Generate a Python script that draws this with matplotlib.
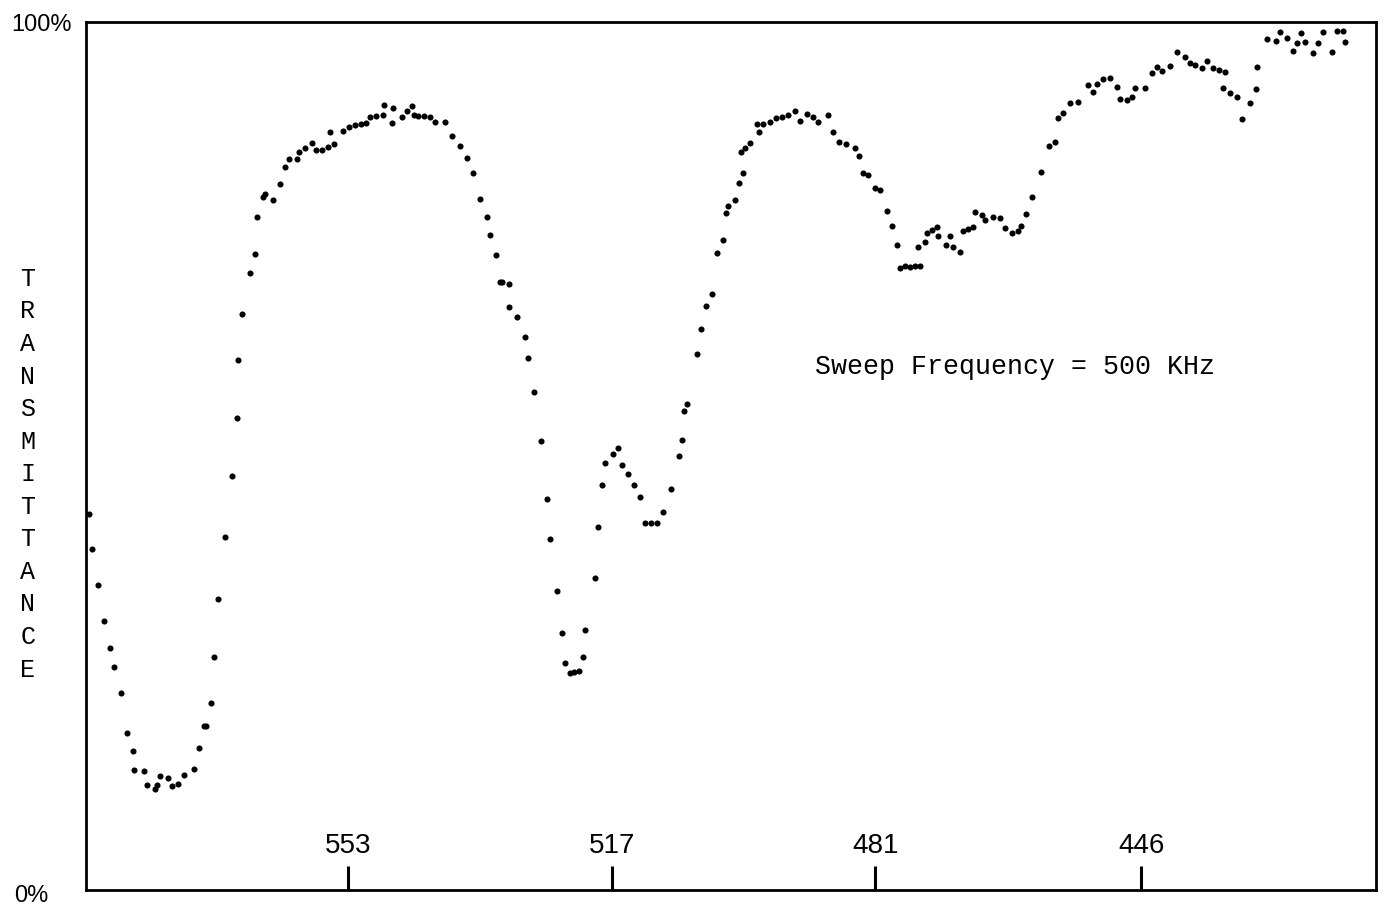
import matplotlib
matplotlib.use('Agg')
import matplotlib.pyplot as plt
import numpy as np

# sweep position (% of chart width) and transmittance (%)
sweep = [0.23, 0.47, 0.93, 1.40, 1.86, 2.17, 2.71, 3.18, 3.64, 3.72, 4.50, 4.73, 5.35, 5.50,
         5.74, 6.36, 6.67, 7.13, 7.60, 8.37, 8.76, 9.15, 9.30, 9.69, 9.92, 10.23, 10.78, 11.32,
         11.71, 11.78, 12.09, 12.71, 13.10, 13.26, 13.72, 13.88, 14.50, 15.04, 15.43, 15.74,
         16.36, 16.51, 16.98, 17.52, 17.83, 18.29, 18.76, 18.91, 19.22, 19.92, 20.39, 20.85,
         21.32, 21.71, 22.02, 22.48, 23.02, 23.10, 23.80, 23.72, 24.50, 24.88, 25.27, 25.43,
         25.74, 26.20, 26.67, 27.05, 27.83, 28.37, 28.99, 29.53, 30.00, 30.54, 31.09, 31.32,
         31.78, 32.09, 32.25, 32.79, 32.79, 33.41, 34.03, 34.26, 34.73, 35.27, 35.74, 35.97,
         36.51, 36.90, 37.13, 37.52, 37.83, 38.22, 38.53, 38.68, 39.46, 39.69, 40.00, 40.23,
         40.85, 41.24, 41.55, 42.02, 42.48, 42.95, 43.33, 43.80, 44.26, 44.73, 45.35, 45.97,
         46.20, 46.36, 46.59, 47.36, 47.67, 48.06, 48.53, 48.91, 49.38, 49.61, 49.77, 50.31,
         50.62, 50.93, 50.78, 51.09, 51.47, 52.17, 52.02, 52.48, 53.02, 53.49, 53.95, 54.42,
         54.96, 55.35, 55.89, 56.36, 56.74, 57.52, 57.91, 58.37, 58.91, 59.61, 59.92, 60.23,
         60.62, 61.16, 61.55, 62.09, 62.48, 62.87, 63.10, 63.49, 63.88, 64.26, 64.65, 64.50,
         65.04, 65.19, 65.58, 65.97, 66.05, 66.67, 66.98, 67.21, 67.75, 67.98, 68.37, 68.76,
         68.91, 69.46, 69.69, 70.31, 70.85, 71.24, 71.78, 72.25, 72.48, 72.87, 73.33, 74.03,
         74.65, 75.12, 75.35, 75.74, 76.28, 76.90, 77.67, 78.06, 78.37, 78.84, 79.38, 79.92,
         80.16, 80.70, 81.09, 81.32, 82.09, 82.64, 83.02, 83.41, 84.03, 84.57, 85.19, 85.58,
         85.97, 86.51, 86.90, 87.36, 87.83, 88.29, 88.14, 88.68, 89.22, 89.61, 90.23, 90.70,
         90.78, 91.55, 92.25, 92.56, 93.10, 93.57, 93.88, 94.19, 94.50, 95.12, 95.50, 95.89,
         96.59, 96.98, 97.44, 97.60]
trans = [43.3, 39.3, 35.1, 31.0, 27.9, 25.7, 22.7, 18.1, 16.0, 13.8, 13.7, 12.1, 11.6, 12.1,
         13.1, 12.9, 12.0, 12.2, 13.2, 13.9, 16.4, 18.9, 18.9, 21.5, 26.8, 33.5, 40.7, 47.7,
         54.4, 61.1, 66.4, 71.1, 73.3, 77.5, 79.8, 80.2, 79.5, 81.3, 83.3, 84.2,
         84.2, 85.0, 85.5, 86.1, 85.3, 85.3, 85.6, 87.3, 85.9, 87.4, 87.9, 88.1,
         88.2, 88.4, 89.1, 89.2, 89.3, 90.4, 90.1, 88.4, 89.1, 89.7, 90.3, 89.3,
         89.2, 89.2, 89.1, 88.5, 88.5, 86.9, 85.7, 84.3, 82.6, 79.6, 77.5, 75.5,
         73.2, 70.0, 70.0, 69.8, 67.2, 66.0, 63.7, 61.3, 57.4, 51.7, 45.0, 40.4,
         34.4, 29.6, 26.2, 25.0, 25.1, 25.2, 26.8, 30.0, 35.9, 41.8, 46.7, 49.2,
         50.2, 50.9, 49.0, 47.9, 46.7, 45.3, 42.3, 42.3, 42.3, 43.5, 46.2, 50.0,
         51.8, 55.2, 56.0, 61.8, 64.6, 67.3, 68.7, 73.4, 74.9, 78.0, 78.8, 79.5,
         81.5, 82.6, 85.0, 85.5, 86.1, 87.3, 88.2, 88.2, 88.5, 88.9, 89.1, 89.3,
         89.7, 88.6, 89.4, 89.1, 88.5, 89.3, 87.3, 86.2, 85.9, 85.5, 84.6, 82.6,
         82.4, 80.9, 80.6, 78.2, 76.5, 74.3, 71.7, 71.9, 71.8, 71.9, 71.9, 74.1,
         74.7, 75.7, 76.0, 76.4, 75.3, 74.3, 75.3, 74.1, 73.5, 75.9, 76.2, 76.4,
         78.1, 77.8, 77.2, 77.5, 77.4, 76.3, 75.7, 75.9, 76.5, 77.9, 79.8, 82.7,
         85.7, 86.2, 88.9, 89.5, 90.7, 90.8, 92.7, 91.9, 92.9, 93.4, 93.5, 92.5,
         91.1, 91.0, 91.4, 92.4, 92.4, 94.1, 94.8, 94.4, 94.9, 96.5, 96.0, 95.3,
         95.0, 94.7, 95.5, 94.7, 94.5, 94.2, 92.4, 91.8, 91.4, 88.8, 90.7, 92.3,
         94.8, 98.0, 97.8, 98.8, 98.2, 96.7, 97.6, 98.7, 97.7, 96.4, 97.6, 98.8,
         96.5, 99.0, 99.0, 97.7]

tick_pos = [20.3, 40.8, 61.2, 81.8]
tick_labels = ['553', '517', '481', '446']

mono = ['Liberation Mono', 'DejaVu Sans Mono']
narrow = ['Liberation Sans Narrow', 'Liberation Sans', 'DejaVu Sans']

fig = plt.figure(figsize=(13.84, 9.10), dpi=100)
ax = fig.add_axes([86/1384, 20/910, 1290/1384, 868/910])

ax.plot(sweep, trans, 'o', color='black', markersize=4.4, markeredgewidth=0)

ax.set_xlim(0, 100)
ax.set_ylim(0, 100)
for s in ax.spines.values():
    s.set_linewidth(2.0)

ax.set_xticks(tick_pos)
ax.set_xticklabels(tick_labels, family=narrow, fontsize=20)
ax.tick_params(axis='x', direction='in', length=17, width=2.2, pad=-41)
ax.set_yticks([])

ax.text(-0.011, 0.997, '100%', transform=ax.transAxes, ha='right', va='center',
        family=narrow, fontsize=17)
ax.text(-0.029, -0.007, '0%', transform=ax.transAxes, ha='right', va='center',
        family=narrow, fontsize=17)

ax.text(-0.045, 0.479, '\n'.join('TRANSMITTANCE'), transform=ax.transAxes,
        ha='center', va='center', family=mono, fontsize=18, linespacing=1.45)

ax.text(56.5, 60.3, 'Sweep Frequency = 500 KHz', ha='left', va='center',
        family=mono, fontsize=19.2)

plt.savefig('out.png', dpi=100)
plt.close()
